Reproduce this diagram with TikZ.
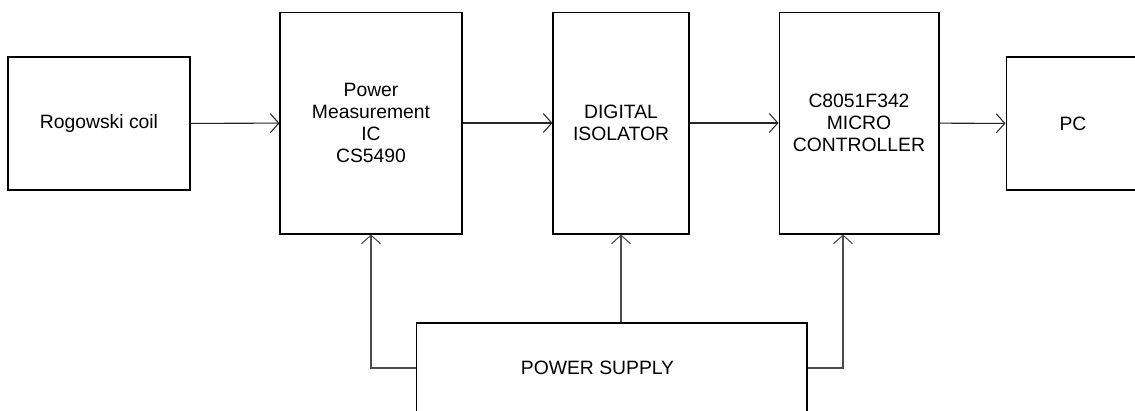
\documentclass[tikz,border=0pt]{standalone}
\usepackage{fontspec}
\setmainfont{Liberation Sans}
\usepackage{tikz}
\usetikzlibrary{arrows.meta,positioning,calc}
\tikzset{
    block/.style={rectangle, draw=black, line width=0.6pt, align=center, inner sep=0pt, font=\fontsize{11}{12.5}\selectfont},
    link/.style={line width=0.6pt, black!85, -{Straight Barb[length=0.17cm, width=0.38cm]}},
    plink/.style={link, black!70},
}
\begin{document}
\begin{tikzpicture}[x=0.02cm, y=-0.02cm]
    \useasboundingbox (0,0) rectangle (1135,410);
    \clip (0,0) rectangle (1135,410);
    % Signal chain
    \node[block, minimum width=3.64cm, minimum height=2.66cm] (coil) at (99,123.5) {Rogowski coil};
    \node[block, minimum width=3.64cm, minimum height=4.44cm] (meas) at (371,123) {Power\\Measurement\\IC\\CS5490};
    \node[block, minimum width=2.72cm, minimum height=4.44cm] (iso) at (621,123) {DIGITAL\\ISOLATOR};
    \node[block, minimum width=3.2cm, minimum height=4.44cm] (mcu) at (859,123) {C8051F342\\MICRO\\CONTROLLER};
    \node[block, minimum width=2.68cm, minimum height=2.66cm] (pc) at (1073,123.5) {PC};
    % Supply
    \node[block, minimum width=7.82cm, minimum height=1.8cm] (psu) at (611.5,368) {\hspace*{-0.56cm}POWER SUPPLY};
    \draw[link] (coil) -- (meas);
    \draw[link] (meas) -- (iso);
    \draw[link] (iso) -- (mcu);
    \draw[link] (mcu) -- (pc);
    \draw[plink] (psu.west) -| (meas.south);
    \draw[plink] (iso.south |- psu.north) -- (iso.south);
    \draw[plink] (psu.east) -| ([xshift=-0.32cm]mcu.south);
\end{tikzpicture}
\end{document}
